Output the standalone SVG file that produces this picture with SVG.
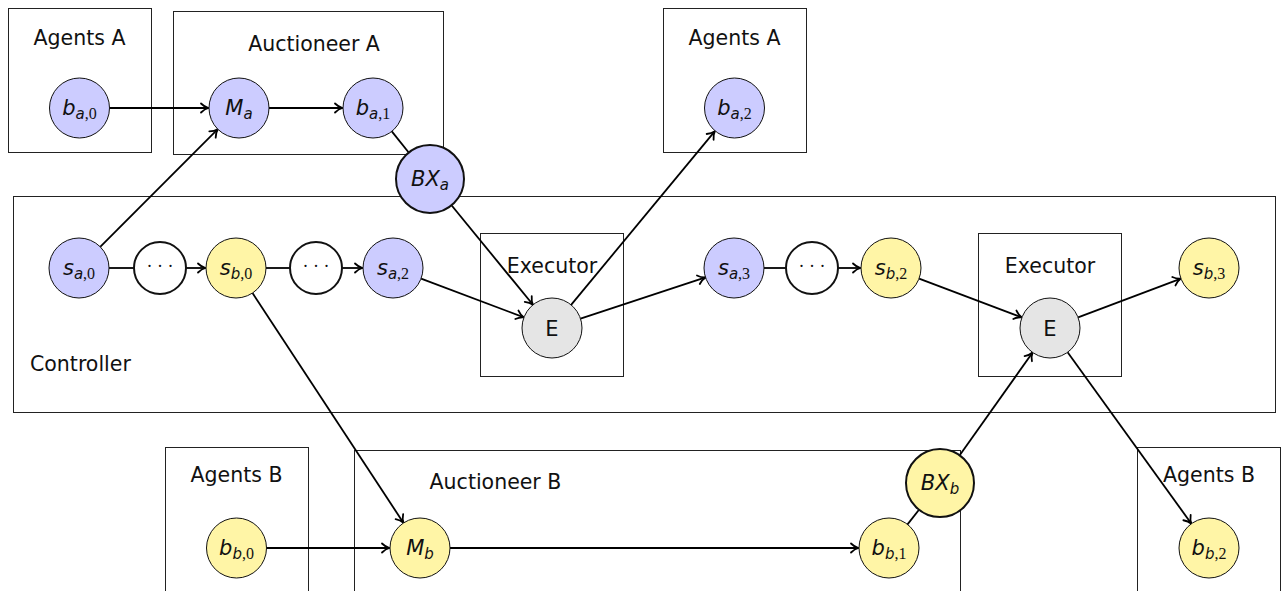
<svg xmlns="http://www.w3.org/2000/svg" width="1285" height="591" viewBox="0 0 1285 591">
<style>
.box{fill:none;stroke:#222;stroke-width:1}
.lbl{font-family:"DejaVu Sans",sans-serif;font-size:20.5px;fill:#111;text-anchor:middle}
.nb{fill:#ccccff;stroke:#111;stroke-width:1}
.ny{fill:#fff5a6;stroke:#111;stroke-width:1}
.ng{fill:#e5e5e5;stroke:#111;stroke-width:1}
.thick{stroke-width:2}
.nd{fill:#fff;stroke:#111;stroke-width:2}
.m{font-family:"DejaVu Sans",sans-serif;font-size:21px;font-style:italic;fill:#111;text-anchor:middle}
.s{font-size:15px}
.r{font-family:"Liberation Serif",serif;font-style:normal;font-size:16px}
.e{font-family:"DejaVu Sans",sans-serif;font-size:21px;fill:#111;text-anchor:middle}
.dots{font-family:"Liberation Serif",serif;font-size:18px;fill:#111;text-anchor:middle}
.c line{stroke:#000;stroke-width:1.8;fill:none}
.c .a{marker-end:url(#arr)}
</style>
<defs>
<marker id="arr" viewBox="-10 -6 12 12" refX="0" refY="0" markerWidth="12" markerHeight="12" orient="auto" markerUnits="userSpaceOnUse">
<path d="M-7.5,-4.5 C-5,-2 -1.6,-0.4 0,0 C-1.6,0.4 -5,2 -7.5,4.5" fill="none" stroke="#000" stroke-width="1.8" stroke-linecap="round" stroke-linejoin="round"/>
</marker>
</defs>

<g id="box-agentsA1"><rect class="box" x="8.5" y="8.5" width="143" height="144"/><text class="lbl" x="79.5" y="45">Agents A</text></g>
<g id="box-auctioneerA"><rect class="box" x="173.5" y="11.5" width="270" height="143"/><text class="lbl" x="314" y="51">Auctioneer A</text></g>
<g id="box-agentsA2"><rect class="box" x="663.5" y="8.5" width="143" height="144"/><text class="lbl" x="734.5" y="45">Agents A</text></g>
<g id="box-controller"><rect class="box" x="13.5" y="196.5" width="1262" height="216"/><text class="lbl" x="30" y="371" style="text-anchor:start">Controller</text></g>
<g id="box-executor1"><rect class="box" x="480.5" y="233.5" width="143" height="143"/><text class="lbl" x="552" y="273">Executor</text></g>
<g id="box-executor2"><rect class="box" x="978.5" y="233.5" width="143" height="143"/><text class="lbl" x="1050" y="273">Executor</text></g>
<g id="box-agentsB1"><rect class="box" x="165.5" y="447.5" width="143" height="144"/><text class="lbl" x="236.5" y="482">Agents B</text></g>
<g id="box-auctioneerB"><rect class="box" x="354.5" y="450.5" width="606" height="145"/><text class="lbl" x="495.5" y="489">Auctioneer B</text></g>
<g id="box-agentsB2"><rect class="box" x="1137.5" y="447.5" width="143" height="144"/><text class="lbl" x="1209" y="482">Agents B</text></g>

<g id="connectors" class="c">
<line class="a" x1="109.5" y1="108" x2="208.5" y2="108"/>
<line class="a" x1="269" y1="108" x2="342.5" y2="108"/>
<line x1="391.8" y1="131.4" x2="408.7" y2="152.5"/>
<line class="a" x1="451.5" y1="205.3" x2="533" y2="304.8"/>
<line class="a" x1="100.2" y1="246.8" x2="217.8" y2="129.2"/>
<line x1="109" y1="268" x2="134" y2="268"/>
<line class="a" x1="186" y1="268" x2="205.5" y2="268"/>
<line x1="266" y1="268" x2="290" y2="268"/>
<line class="a" x1="342" y1="268" x2="362.5" y2="268"/>
<line class="a" x1="421.1" y1="278.6" x2="523.9" y2="317.4"/>
<line class="a" x1="571.1" y1="304.9" x2="714.9" y2="131.1"/>
<line class="a" x1="580.5" y1="318.6" x2="705.5" y2="277.4"/>
<line x1="764" y1="268" x2="786" y2="268"/>
<line class="a" x1="838" y1="268" x2="860.5" y2="268"/>
<line class="a" x1="919.1" y1="278.6" x2="1021.9" y2="317.4"/>
<line class="a" x1="1078.1" y1="317.4" x2="1180.9" y2="278.6"/>
<line class="a" x1="252.5" y1="293.1" x2="403.5" y2="522.9"/>
<line class="a" x1="266.5" y1="548" x2="389.5" y2="548"/>
<line class="a" x1="450" y1="548" x2="858.5" y2="548"/>
<line x1="907.5" y1="524.4" x2="919" y2="509.8"/>
<line class="a" x1="959.7" y1="455.3" x2="1032.6" y2="352.5"/>
<line class="a" x1="1067.6" y1="352.3" x2="1191.4" y2="523.7"/>
</g>

<g id="n-ba0"><circle class="nb" cx="79.5" cy="108" r="30"/><text class="m" x="79.5" y="115">b<tspan class="s" dy="4">a</tspan><tspan class="r">,0</tspan></text></g>
<g id="n-Ma"><circle class="nb" cx="239" cy="108" r="30"/><text class="m" x="239" y="115">M<tspan class="s" dy="4">a</tspan></text></g>
<g id="n-ba1"><circle class="nb" cx="373" cy="108" r="30"/><text class="m" x="373" y="115">b<tspan class="s" dy="4">a</tspan><tspan class="r">,1</tspan></text></g>
<g id="n-BXa"><circle class="nb thick" cx="430" cy="179" r="34"/><text class="m" x="430" y="186">BX<tspan class="s" dy="4">a</tspan></text></g>
<g id="n-ba2"><circle class="nb" cx="734.5" cy="108" r="30"/><text class="m" x="734.5" y="115">b<tspan class="s" dy="4">a</tspan><tspan class="r">,2</tspan></text></g>

<g id="n-sa0"><circle class="nb" cx="79" cy="268" r="30"/><text class="m" x="79" y="275">s<tspan class="s" dy="4">a</tspan><tspan class="r">,0</tspan></text></g>
<g id="n-d1"><circle class="nd" cx="160" cy="268" r="26"/><text class="dots" x="160" y="272">· · ·</text></g>
<g id="n-sb0"><circle class="ny" cx="236" cy="268" r="30"/><text class="m" x="236" y="275">s<tspan class="s" dy="4">b</tspan><tspan class="r">,0</tspan></text></g>
<g id="n-d2"><circle class="nd" cx="316" cy="268" r="26"/><text class="dots" x="316" y="272">· · ·</text></g>
<g id="n-sa2"><circle class="nb" cx="393" cy="268" r="30"/><text class="m" x="393" y="275">s<tspan class="s" dy="4">a</tspan><tspan class="r">,2</tspan></text></g>
<g id="n-E1"><circle class="ng" cx="552" cy="328" r="30"/><text class="e" x="552" y="335.5">E</text></g>
<g id="n-sa3"><circle class="nb" cx="734" cy="268" r="30"/><text class="m" x="734" y="275">s<tspan class="s" dy="4">a</tspan><tspan class="r">,3</tspan></text></g>
<g id="n-d3"><circle class="nd" cx="812" cy="268" r="26"/><text class="dots" x="812" y="272">· · ·</text></g>
<g id="n-sb2"><circle class="ny" cx="891" cy="268" r="30"/><text class="m" x="891" y="275">s<tspan class="s" dy="4">b</tspan><tspan class="r">,2</tspan></text></g>
<g id="n-E2"><circle class="ng" cx="1050" cy="328" r="30"/><text class="e" x="1050" y="335.5">E</text></g>
<g id="n-sb3"><circle class="ny" cx="1209" cy="268" r="30"/><text class="m" x="1209" y="275">s<tspan class="s" dy="4">b</tspan><tspan class="r">,3</tspan></text></g>

<g id="n-bb0"><circle class="ny" cx="236.5" cy="548" r="30"/><text class="m" x="236.5" y="555">b<tspan class="s" dy="4">b</tspan><tspan class="r">,0</tspan></text></g>
<g id="n-Mb"><circle class="ny" cx="420" cy="548" r="30"/><text class="m" x="420" y="555">M<tspan class="s" dy="4">b</tspan></text></g>
<g id="n-bb1"><circle class="ny" cx="889" cy="548" r="30"/><text class="m" x="889" y="555">b<tspan class="s" dy="4">b</tspan><tspan class="r">,1</tspan></text></g>
<g id="n-BXb"><circle class="ny thick" cx="940" cy="483" r="34"/><text class="m" x="940" y="490">BX<tspan class="s" dy="4">b</tspan></text></g>
<g id="n-bb2"><circle class="ny" cx="1209" cy="548" r="30"/><text class="m" x="1209" y="555">b<tspan class="s" dy="4">b</tspan><tspan class="r">,2</tspan></text></g>
</svg>
